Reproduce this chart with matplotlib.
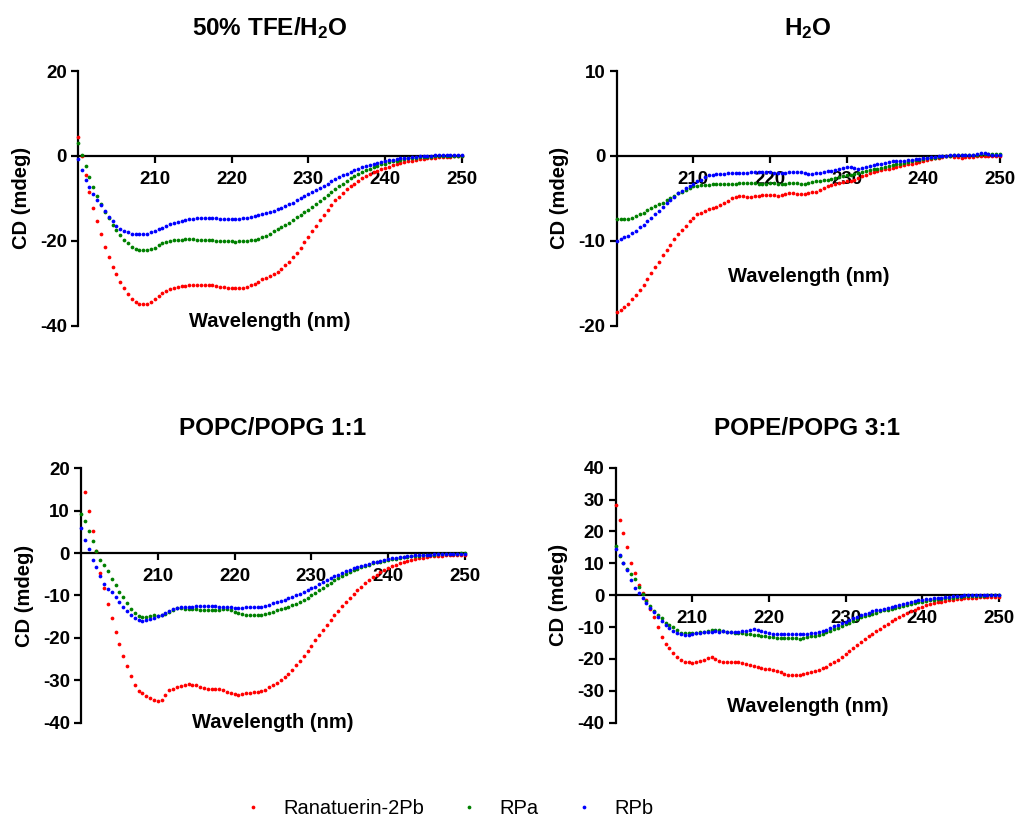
import numpy as np
import matplotlib
matplotlib.use("Agg")
import matplotlib.pyplot as plt

plt.rcParams['font.family'] = 'Liberation Sans'
plt.rcParams['font.weight'] = 'bold'
plt.rcParams['axes.labelweight'] = 'bold'
plt.rcParams['axes.unicode_minus'] = False
plt.rcParams['mathtext.fontset'] = 'custom'
plt.rcParams['mathtext.rm'] = 'Liberation Sans:bold'
plt.rcParams['mathtext.it'] = 'Liberation Sans:bold'
plt.rcParams['mathtext.bf'] = 'Liberation Sans:bold'
plt.rcParams['mathtext.default'] = 'bf'

# wavelength grid, 0.5 nm steps
wavelength = np.arange(200, 250.5, 0.5)

peptides = ['Ranatuerin-2Pb', 'RPa', 'RPb']
colors = ['#ff0000', '#008000', '#0000ff']

# ---- 50% TFE/H2O ----
tfe_r2pb = [4.5, 0.0, -4.5, -8.6, -12.2, -15.4, -18.5, -21.4, -23.8, -26.1,
            -27.9, -29.6, -31.2, -32.6, -33.6, -34.4, -34.9, -35.0, -34.9, -34.5,
            -33.7, -33.0, -32.4, -31.8, -31.4, -31.0, -30.8, -30.7, -30.6, -30.5,
            -30.4, -30.3, -30.3, -30.3, -30.4, -30.5, -30.7, -30.8, -30.9, -31.0,
            -31.1, -31.2, -31.1, -31.0, -30.8, -30.5, -30.1, -29.6, -29.1, -28.8,
            -28.4, -27.9, -27.3, -26.6, -25.8, -24.9, -23.9, -22.8, -21.6, -20.3,
            -19.0, -17.7, -16.4, -15.1, -13.9, -12.7, -11.6, -10.5, -9.6, -8.7,
            -7.9, -7.2, -6.5, -5.9, -5.3, -4.8, -4.3, -3.9, -3.5, -3.1,
            -2.8, -2.5, -2.2, -1.9, -1.7, -1.5, -1.3, -1.1, -1.0, -0.8,
            -0.7, -0.6, -0.5, -0.4, -0.35, -0.3, -0.2, -0.15, -0.1, -0.05,
            0.0]
tfe_rpa = [3.1, 0.2, -2.4, -4.9, -7.3, -9.5, -11.4, -13.2, -14.7, -16.2,
           -17.5, -18.7, -19.7, -20.6, -21.4, -21.9, -22.1, -22.2, -22.2, -22.0,
           -21.6, -21.1, -20.6, -20.2, -20.0, -19.8, -19.7, -19.7, -19.6, -19.6,
           -19.6, -19.7, -19.7, -19.8, -19.9, -19.9, -20.0, -20.0, -20.1, -20.1,
           -20.1, -20.2, -20.1, -20.1, -20.0, -19.9, -19.7, -19.5, -19.2, -18.8,
           -18.3, -17.8, -17.3, -16.8, -16.2, -15.7, -15.1, -14.5, -13.9, -13.3,
           -12.7, -12.0, -11.3, -10.6, -9.9, -9.2, -8.5, -7.8, -7.1, -6.5,
           -5.9, -5.3, -4.8, -4.3, -3.8, -3.4, -3.0, -2.6, -2.3, -2.0,
           -1.8, -1.5, -1.3, -1.1, -0.9, -0.8, -0.6, -0.5, -0.4, -0.3,
           -0.25, -0.2, -0.15, -0.1, -0.1, -0.05, 0.0, 0.0, 0.0, 0.0,
           0.0]
tfe_rpb = [-0.8, -3.4, -5.7, -7.4, -8.9, -10.3, -11.6, -13.0, -14.5, -15.4,
           -16.5, -17.1, -17.6, -18.0, -18.3, -18.4, -18.4, -18.4, -18.3, -18.0,
           -17.7, -17.3, -16.9, -16.5, -16.1, -15.8, -15.5, -15.3, -15.1, -14.9,
           -14.8, -14.7, -14.6, -14.6, -14.6, -14.7, -14.7, -14.8, -14.8, -14.9,
           -14.9, -14.9, -14.8, -14.7, -14.6, -14.4, -14.2, -14.0, -13.8, -13.5,
           -13.2, -12.9, -12.6, -12.2, -11.8, -11.4, -11.0, -10.5, -10.0, -9.5,
           -9.0, -8.5, -8.0, -7.5, -7.0, -6.5, -6.0, -5.5, -5.0, -4.6,
           -4.2, -3.8, -3.4, -3.1, -2.7, -2.4, -2.1, -1.9, -1.6, -1.4,
           -1.2, -1.0, -0.9, -0.7, -0.6, -0.5, -0.4, -0.3, -0.2, -0.1,
           0.0, 0.0, 0.05, 0.1, 0.1, 0.15, 0.15, 0.2, 0.2, 0.2,
           0.2]

# ---- H2O ----
h2o_r2pb = [-18.4, -18.2, -17.8, -17.4, -16.9, -16.4, -15.8, -15.2, -14.5, -13.8,
            -13.1, -12.5, -11.7, -11.1, -10.5, -9.8, -9.2, -8.7, -8.2, -7.7,
            -7.3, -6.9, -6.7, -6.5, -6.3, -6.1, -6.0, -5.8, -5.6, -5.3,
            -5.0, -4.8, -4.7, -4.7, -4.8, -4.8, -4.7, -4.7, -4.6, -4.6,
            -4.6, -4.6, -4.7, -4.6, -4.5, -4.4, -4.4, -4.5, -4.5, -4.5,
            -4.4, -4.3, -4.2, -4.0, -3.8, -3.6, -3.4, -3.3, -3.2, -3.1,
            -3.0, -2.9, -2.8, -2.6, -2.4, -2.2, -2.0, -1.9, -1.8, -1.7,
            -1.6, -1.5, -1.4, -1.3, -1.2, -1.1, -1.0, -0.9, -0.8, -0.7,
            -0.6, -0.5, -0.4, -0.3, -0.2, -0.1, -0.05, -0.05, -0.1, -0.15,
            -0.2, -0.15, -0.1, -0.1, -0.05, 0.0, 0.0, 0.0, 0.0, 0.0,
            0.0]
h2o_rpa = [-7.4, -7.4, -7.4, -7.4, -7.3, -7.1, -6.9, -6.7, -6.4, -6.1,
           -5.9, -5.7, -5.5, -5.2, -5.0, -4.7, -4.4, -4.2, -4.0, -3.8,
           -3.6, -3.5, -3.4, -3.4, -3.4, -3.3, -3.3, -3.3, -3.3, -3.3,
           -3.3, -3.3, -3.2, -3.2, -3.2, -3.2, -3.2, -3.3, -3.3, -3.3,
           -3.2, -3.2, -3.3, -3.3, -3.3, -3.2, -3.2, -3.2, -3.3, -3.3,
           -3.2, -3.1, -3.0, -2.9, -2.8, -2.8, -2.7, -2.6, -2.5, -2.4,
           -2.3, -2.2, -2.1, -2.0, -1.9, -1.8, -1.7, -1.6, -1.5, -1.4,
           -1.3, -1.2, -1.1, -1.0, -0.9, -0.8, -0.7, -0.6, -0.5, -0.45,
           -0.4, -0.3, -0.25, -0.2, -0.1, -0.05, 0.0, 0.0, 0.05, 0.05,
           0.1, 0.1, 0.1, 0.15, 0.15, 0.2, 0.2, 0.2, 0.2, 0.2,
           0.2]
h2o_rpb = [-10.0, -9.8, -9.6, -9.4, -9.1, -8.8, -8.4, -8.1, -7.7, -7.3,
           -6.9, -6.5, -6.0, -5.6, -5.2, -4.8, -4.4, -4.1, -3.8, -3.6,
           -3.25, -3.0, -2.8, -2.5, -2.3, -2.2, -2.1, -2.1, -2.1, -2.05,
           -2.05, -2.0, -2.0, -2.0, -2.0, -1.95, -1.95, -1.9, -1.9, -1.9,
           -1.95, -2.0, -2.05, -2.05, -2.0, -1.95, -1.9, -1.85, -1.9, -2.0,
           -2.1, -2.1, -2.05, -2.0, -1.9, -1.8, -1.75, -1.7, -1.6, -1.4,
           -1.3, -1.3, -1.4, -1.5, -1.4, -1.3, -1.2, -1.1, -1.0, -0.9,
           -0.8, -0.7, -0.65, -0.6, -0.6, -0.55, -0.5, -0.45, -0.4, -0.35,
           -0.3, -0.2, -0.15, -0.1, -0.05, 0.0, 0.0, 0.05, 0.05, 0.1,
           0.1, 0.1, 0.15, 0.15, 0.2, 0.3, 0.3, 0.2, 0.1, 0.1,
           0.1]

# ---- POPC/POPG 1:1 ---- (Ranatuerin-2Pb at 200 nm is off scale)
popc_r2pb = [np.nan, 14.5, 10.0, 5.1, 0.45, -4.6, -8.3, -12.0, -15.3, -18.7,
             -21.5, -24.2, -26.6, -29.1, -31.0, -32.5, -33.1, -33.7, -34.1, -34.7,
             -34.9, -34.6, -33.5, -32.4, -32.0, -31.6, -31.3, -31.1, -30.8, -31.0,
             -31.1, -31.6, -31.9, -32.1, -32.0, -32.0, -32.1, -32.4, -32.7, -33.1,
             -33.3, -33.5, -33.3, -33.1, -32.9, -32.8, -32.7, -32.5, -32.2, -31.6,
             -31.0, -30.6, -30.0, -29.3, -28.5, -27.5, -26.5, -25.4, -24.2, -23.0,
             -21.8, -20.6, -19.4, -18.2, -17.0, -15.8, -14.7, -13.6, -12.5, -11.5,
             -10.5, -9.6, -8.7, -7.9, -7.1, -6.4, -5.7, -5.1, -4.5, -4.0,
             -3.5, -3.1, -2.7, -2.4, -2.1, -1.8, -1.6, -1.4, -1.2, -1.05,
             -0.9, -0.8, -0.7, -0.65, -0.6, -0.55, -0.5, -0.45, -0.4, -0.4,
             -0.35]
popc_rpa = [9.3, 7.5, 5.1, 2.9, 0.6, -1.7, -2.9, -4.3, -6.0, -7.6,
            -9.1, -10.4, -11.8, -13.2, -14.2, -14.8, -15.0, -15.0, -14.8, -14.7,
            -14.8, -14.7, -14.4, -14.0, -13.4, -13.0, -13.0, -13.1, -13.2, -13.3,
            -13.3, -13.4, -13.4, -13.5, -13.5, -13.5, -13.4, -13.3, -13.3, -13.5,
            -13.8, -14.1, -14.4, -14.6, -14.7, -14.7, -14.7, -14.6, -14.4, -14.1,
            -13.8, -13.5, -13.2, -12.9, -12.6, -12.3, -12.0, -11.6, -11.1, -10.6,
            -10.0, -9.4, -8.8, -8.2, -7.6, -7.0, -6.4, -5.9, -5.4, -4.9,
            -4.5, -4.1, -3.7, -3.3, -3.0, -2.7, -2.4, -2.2, -2.0, -1.8,
            -1.6, -1.4, -1.3, -1.1, -1.0, -0.9, -0.8, -0.7, -0.6, -0.5,
            -0.45, -0.4, -0.35, -0.3, -0.25, -0.2, -0.15, -0.1, -0.1, -0.05,
            0.0]
popc_rpb = [5.9, 3.0, 0.9, -1.6, -3.3, -5.5, -7.3, -8.4, -9.2, -10.3,
            -11.6, -12.8, -13.7, -14.5, -15.3, -15.7, -15.9, -15.8, -15.5, -15.2,
            -14.8, -14.6, -14.2, -13.7, -13.3, -13.0, -12.8, -12.7, -12.6, -12.6,
            -12.5, -12.5, -12.5, -12.5, -12.5, -12.5, -12.6, -12.6, -12.7, -12.8,
            -12.9, -12.9, -12.9, -12.8, -12.7, -12.6, -12.6, -12.6, -12.5, -12.2,
            -11.8, -11.6, -11.3, -11.0, -10.7, -10.4, -10.0, -9.6, -9.2, -8.8,
            -8.3, -7.9, -7.4, -6.9, -6.4, -5.9, -5.5, -5.1, -4.7, -4.3,
            -4.0, -3.6, -3.3, -3.0, -2.7, -2.5, -2.2, -2.0, -1.8, -1.6,
            -1.4, -1.2, -1.1, -0.95, -0.85, -0.75, -0.65, -0.55, -0.5, -0.45,
            -0.4, -0.35, -0.3, -0.25, -0.2, -0.2, -0.15, -0.15, -0.1, -0.1,
            -0.1]

# ---- POPE/POPG 3:1 ----
pope_r2pb = [28.4, 23.7, 19.5, 15.2, 10.2, 6.8, 3.1, 0.7, -1.6, -4.2,
             -6.8, -9.9, -13.1, -15.2, -16.7, -18.1, -19.3, -20.4, -20.9, -21.1,
             -21.2, -21.0, -20.7, -20.4, -19.8, -19.5, -19.9, -20.6, -21.0, -21.0,
             -21.0, -20.9, -21.0, -21.4, -21.6, -21.9, -22.2, -22.5, -22.8, -23.1,
             -23.3, -23.5, -23.7, -24.1, -24.6, -24.9, -24.9, -24.9, -24.9, -24.7,
             -24.4, -24.2, -23.9, -23.5, -23.0, -22.4, -21.7, -21.0, -20.2, -19.4,
             -18.6, -17.6, -16.6, -15.6, -14.7, -13.8, -12.9, -12.1, -11.3, -10.5,
             -9.7, -8.9, -8.1, -7.4, -6.8, -6.2, -5.6, -5.0, -4.5, -4.0,
             -3.6, -3.2, -2.9, -2.6, -2.3, -2.0, -1.8, -1.6, -1.4, -1.2,
             -1.1, -1.0, -0.9, -0.8, -0.75, -0.7, -0.65, -0.6, -0.6, -0.55,
             -0.5]
pope_rpa = [15.5, 12.4, 10.2, 8.1, 6.6, 5.0, 2.5, 0.3, -1.7, -3.4,
            -4.9, -6.3, -7.3, -8.7, -9.4, -9.9, -11.0, -11.8, -12.0, -12.0,
            -12.0, -11.9, -11.7, -11.5, -11.3, -11.0, -10.8, -11.0, -11.3, -11.5,
            -11.7, -11.8, -11.8, -12.0, -12.2, -12.3, -12.5, -12.6, -12.7, -12.8,
            -13.1, -13.2, -13.3, -13.3, -13.4, -13.4, -13.5, -13.5, -13.6, -13.4,
            -13.1, -12.9, -12.7, -12.4, -12.1, -11.7, -11.2, -10.7, -10.2, -9.7,
            -9.2, -8.6, -8.0, -7.4, -6.9, -6.5, -6.2, -5.8, -5.5, -5.1,
            -4.8, -4.5, -4.2, -3.9, -3.6, -3.3, -3.0, -2.7, -2.4, -2.2,
            -2.0, -1.8, -1.6, -1.4, -1.3, -1.1, -1.0, -0.9, -0.75, -0.6,
            -0.5, -0.4, -0.35, -0.3, -0.25, -0.2, -0.15, -0.1, -0.05, 0.0,
            0.0]
pope_rpb = [14.5, 12.6, 10.2, 8.0, 4.9, 2.1, 0.6, -0.9, -2.4, -3.9,
            -5.3, -6.8, -8.2, -9.4, -10.4, -11.2, -11.8, -12.2, -12.4, -12.5,
            -12.2, -12.0, -11.8, -11.7, -11.5, -11.5, -11.3, -11.4, -11.3, -11.4,
            -11.5, -11.6, -11.5, -11.3, -11.2, -10.9, -10.7, -10.9, -11.3, -11.7,
            -12.0, -12.2, -12.3, -12.3, -12.3, -12.3, -12.3, -12.3, -12.3, -12.2,
            -12.2, -12.0, -11.8, -11.5, -11.2, -10.8, -10.3, -9.8, -9.3, -8.8,
            -8.3, -7.8, -7.3, -6.8, -6.3, -5.9, -5.5, -5.1, -4.8, -4.5,
            -4.2, -3.9, -3.6, -3.3, -3.0, -2.7, -2.4, -2.1, -1.9, -1.6,
            -1.4, -1.2, -1.1, -1.0, -0.9, -0.75, -0.6, -0.45, -0.35, -0.25,
            -0.15, -0.1, 0.0, 0.05, 0.1, 0.1, 0.15, 0.15, 0.2, 0.2,
            0.2]

titles = [r'50% TFE/H$_2$O', r'H$_2$O', 'POPC/POPG 1:1', 'POPE/POPG 3:1']
spectra = [(tfe_r2pb, tfe_rpa, tfe_rpb),
           (h2o_r2pb, h2o_rpa, h2o_rpb),
           (popc_r2pb, popc_rpa, popc_rpb),
           (pope_r2pb, pope_rpa, pope_rpb)]
y_ranges = [(-40, 20), (-20, 10), (-40, 20), (-40, 40)]
y_steps = [20, 10, 10, 10]
x_ticks = [210, 220, 230, 240, 250]

# panel boxes in figure fraction, label heights in axes fraction
boxes = [[0.0768, 0.6023, 0.3783, 0.3110],
         [0.6076, 0.6023, 0.3776, 0.3110],
         [0.0798, 0.1176, 0.3783, 0.3106],
         [0.6066, 0.1176, 0.3776, 0.3114]]
xlabel_y = [0.015, 0.195, 0.0, 0.063]
title_y = [1.168, 1.168, 1.157, 1.155]

fig = plt.figure(figsize=(10.15, 8.19), dpi=100)

handles = []
for i in range(4):
    ax = fig.add_axes(boxes[i])
    for vals, c, name in zip(spectra[i], colors, peptides):
        h, = ax.plot(wavelength, vals, 'o', color=c, ms=2.7, mew=0,
                     clip_on=False, zorder=3, label=name)
        if i == 0:
            handles.append(h)

    lo, hi = y_ranges[i]
    ax.set_xlim(200, 250)
    ax.set_ylim(lo, hi)
    ax.set_xticks(x_ticks)
    ax.set_yticks(np.arange(lo, hi + 1, y_steps[i]))

    ax.spines['top'].set_visible(False)
    ax.spines['right'].set_visible(False)
    ax.spines['bottom'].set_position(('data', 0))
    for s in ('left', 'bottom'):
        ax.spines[s].set_linewidth(1.6)
    ax.tick_params(axis='both', direction='out', length=5, width=1.6,
                   labelsize=13.5)
    ax.tick_params(axis='x', pad=6)
    ax.tick_params(axis='y', pad=3)

    ax.set_xlabel('Wavelength (nm)', fontsize=14.5, fontweight='bold')
    ax.xaxis.set_label_coords(0.5, xlabel_y[i])
    ax.xaxis.label.set_va('center')
    ax.set_ylabel('CD (mdeg)', fontsize=14.5, fontweight='bold')
    ax.yaxis.set_label_coords(-0.148, 0.5)
    ax.yaxis.label.set_va('center')

    ax.text(0.5, title_y[i], titles[i], transform=ax.transAxes,
            ha='center', va='center', fontsize=17.5, fontweight='bold')

fig.legend(handles, peptides, loc='center', bbox_to_anchor=(448 / 1015, 10 / 819),
           ncol=3, frameon=False, handlelength=1.0, handletextpad=1.0,
           columnspacing=1.75, prop={'size': 14.5, 'weight': 'normal'})

fig.savefig('out.png', dpi=100)
